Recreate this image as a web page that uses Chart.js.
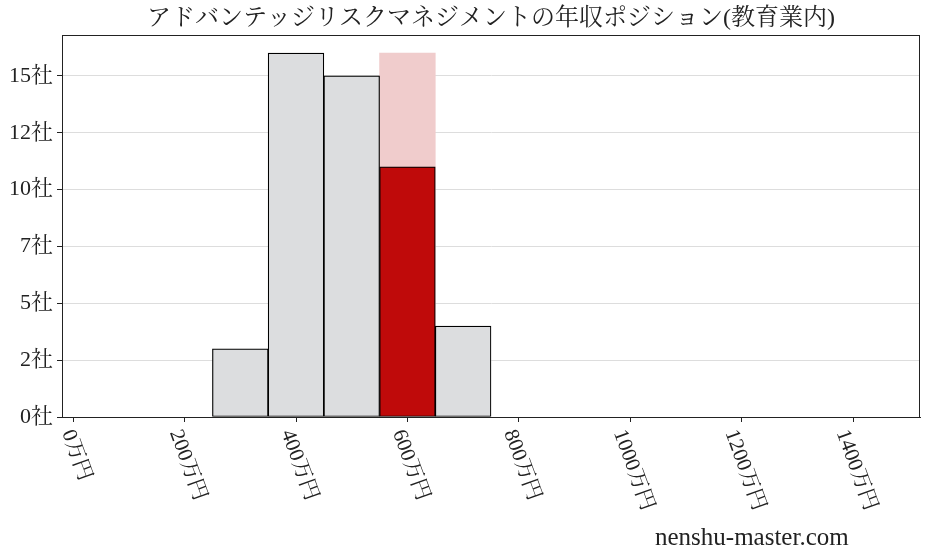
<!DOCTYPE html>
<html>
<head>
<meta charset="utf-8">
<script src="https://cdn.jsdelivr.net/npm/chart.js@4"></script>
<style>
  html, body { margin: 0; padding: 0; background: #fff; }
</style>
</head>
<body>
<canvas id="myChart" width="928" height="557"></canvas>
<script>
// bins (万円) and number of companies in each
const binCenters = [300, 400, 500, 600, 700];
const companyCounts = [3, 16, 15, 11, 4];
const highlightBin = 600;
const highlightTotal = [16];

const xTickValues = [0, 200, 400, 600, 800, 1000, 1200, 1400];
const xTickLabels = ['0万円', '200万円', '400万円', '600万円', '800万円', '1000万円', '1200万円', '1400万円'];
const yTickValues = [0, 2.5, 5, 7.5, 10, 12.5, 15];
const yTickLabels = ['0社', '2社', '5社', '7社', '10社', '12社', '15社'];

const chartTitle = 'アドバンテッジリスクマネジメントの年収ポジション(教育業内)';
const siteName = 'nenshu-master.com';

const FONT = "'Liberation Serif', 'Noto Serif CJK JP', 'Noto Sans CJK JP', serif";
const INK = '#222222';

const barColors = binCenters.map(x => x === highlightBin ? '#bf0a0a' : '#dcdddf');

// frame round the plot, rotated x labels and the site name
const extras = {
    id: 'extras',
    afterDraw(chart) {
        const ctx = chart.ctx;
        const area = chart.chartArea;
        const xs = chart.scales.x;
        ctx.save();
        ctx.strokeStyle = INK;
        ctx.lineWidth = 1;
        ctx.strokeRect(Math.round(area.left) + 0.5, Math.round(area.top) + 0.5,
            Math.round(area.right - area.left) - 1, Math.round(area.bottom - area.top));

        const size = 21;
        const ang = 70 * Math.PI / 180;
        ctx.font = size + 'px ' + FONT;
        ctx.fillStyle = INK;
        ctx.textAlign = 'center';
        ctx.textBaseline = 'middle';
        xTickValues.forEach((v, i) => {
            const px = xs.getPixelForValue(v);
            const w = ctx.measureText(xTickLabels[i]).width;
            const h = w * Math.sin(ang) + size * Math.cos(ang);
            ctx.save();
            ctx.translate(px + 3, area.bottom + 10 + h / 2);
            ctx.rotate(ang);
            ctx.fillText(xTickLabels[i], 0, 0);
            ctx.restore();
        });

        ctx.font = '25px ' + FONT;
        ctx.textAlign = 'left';
        ctx.textBaseline = 'alphabetic';
        ctx.fillText(siteName, 655, 545);
        ctx.restore();
    }
};

const ctx = document.getElementById('myChart').getContext('2d');
const myChart = new Chart(ctx, {
    type: 'bar',
    data: {
        datasets: [{
            label: '年収ポジション',
            data: binCenters.map((x, i) => ({ x: x, y: companyCounts[i] })),
            backgroundColor: barColors,
            borderColor: '#000000',
            borderWidth: 1.2,
            borderSkipped: false,
            grouped: false,
            barPercentage: 1,
            categoryPercentage: 1,
            order: 1
        }, {
            label: '全体',
            data: highlightTotal.map(y => ({ x: highlightBin, y: y })),
            backgroundColor: '#f0cccc',
            borderWidth: 0,
            grouped: false,
            barPercentage: 1,
            categoryPercentage: 1,
            order: 2
        }]
    },
    options: {
        responsive: false,
        animation: false,
        devicePixelRatio: 1,
        layout: { padding: { left: 0, right: 8, top: 0, bottom: 0 } },
        plugins: {
            legend: { display: false },
            tooltip: { enabled: false },
            title: {
                display: true,
                text: chartTitle,
                fullSize: false,
                color: INK,
                font: { family: FONT, size: 24, weight: 'normal' },
                padding: { top: 4, bottom: 2.2 }
            }
        },
        scales: {
            x: {
                type: 'linear',
                offset: false,
                min: -20,
                max: 1520,
                afterBuildTicks: s => { s.ticks = xTickValues.map(v => ({ value: v })); },
                afterFit: s => { s.height = 140; },
                ticks: { display: false },
                grid: { offset: false, drawOnChartArea: false, drawTicks: true, tickLength: 5, tickColor: INK },
                border: { color: INK }
            },
            y: {
                min: 0,
                max: 16.8,
                afterBuildTicks: s => { s.ticks = yTickValues.map(v => ({ value: v })); },
                afterFit: s => { s.width = 62; },
                ticks: {
                    callback: (v, i) => yTickLabels[i],
                    color: INK,
                    padding: 4,
                    font: { family: FONT, size: 22 }
                },
                grid: { color: '#dddddd', tickColor: INK, tickLength: 5 },
                border: { color: INK }
            }
        }
    },
    plugins: [extras]
});
</script>
</body>
</html>
